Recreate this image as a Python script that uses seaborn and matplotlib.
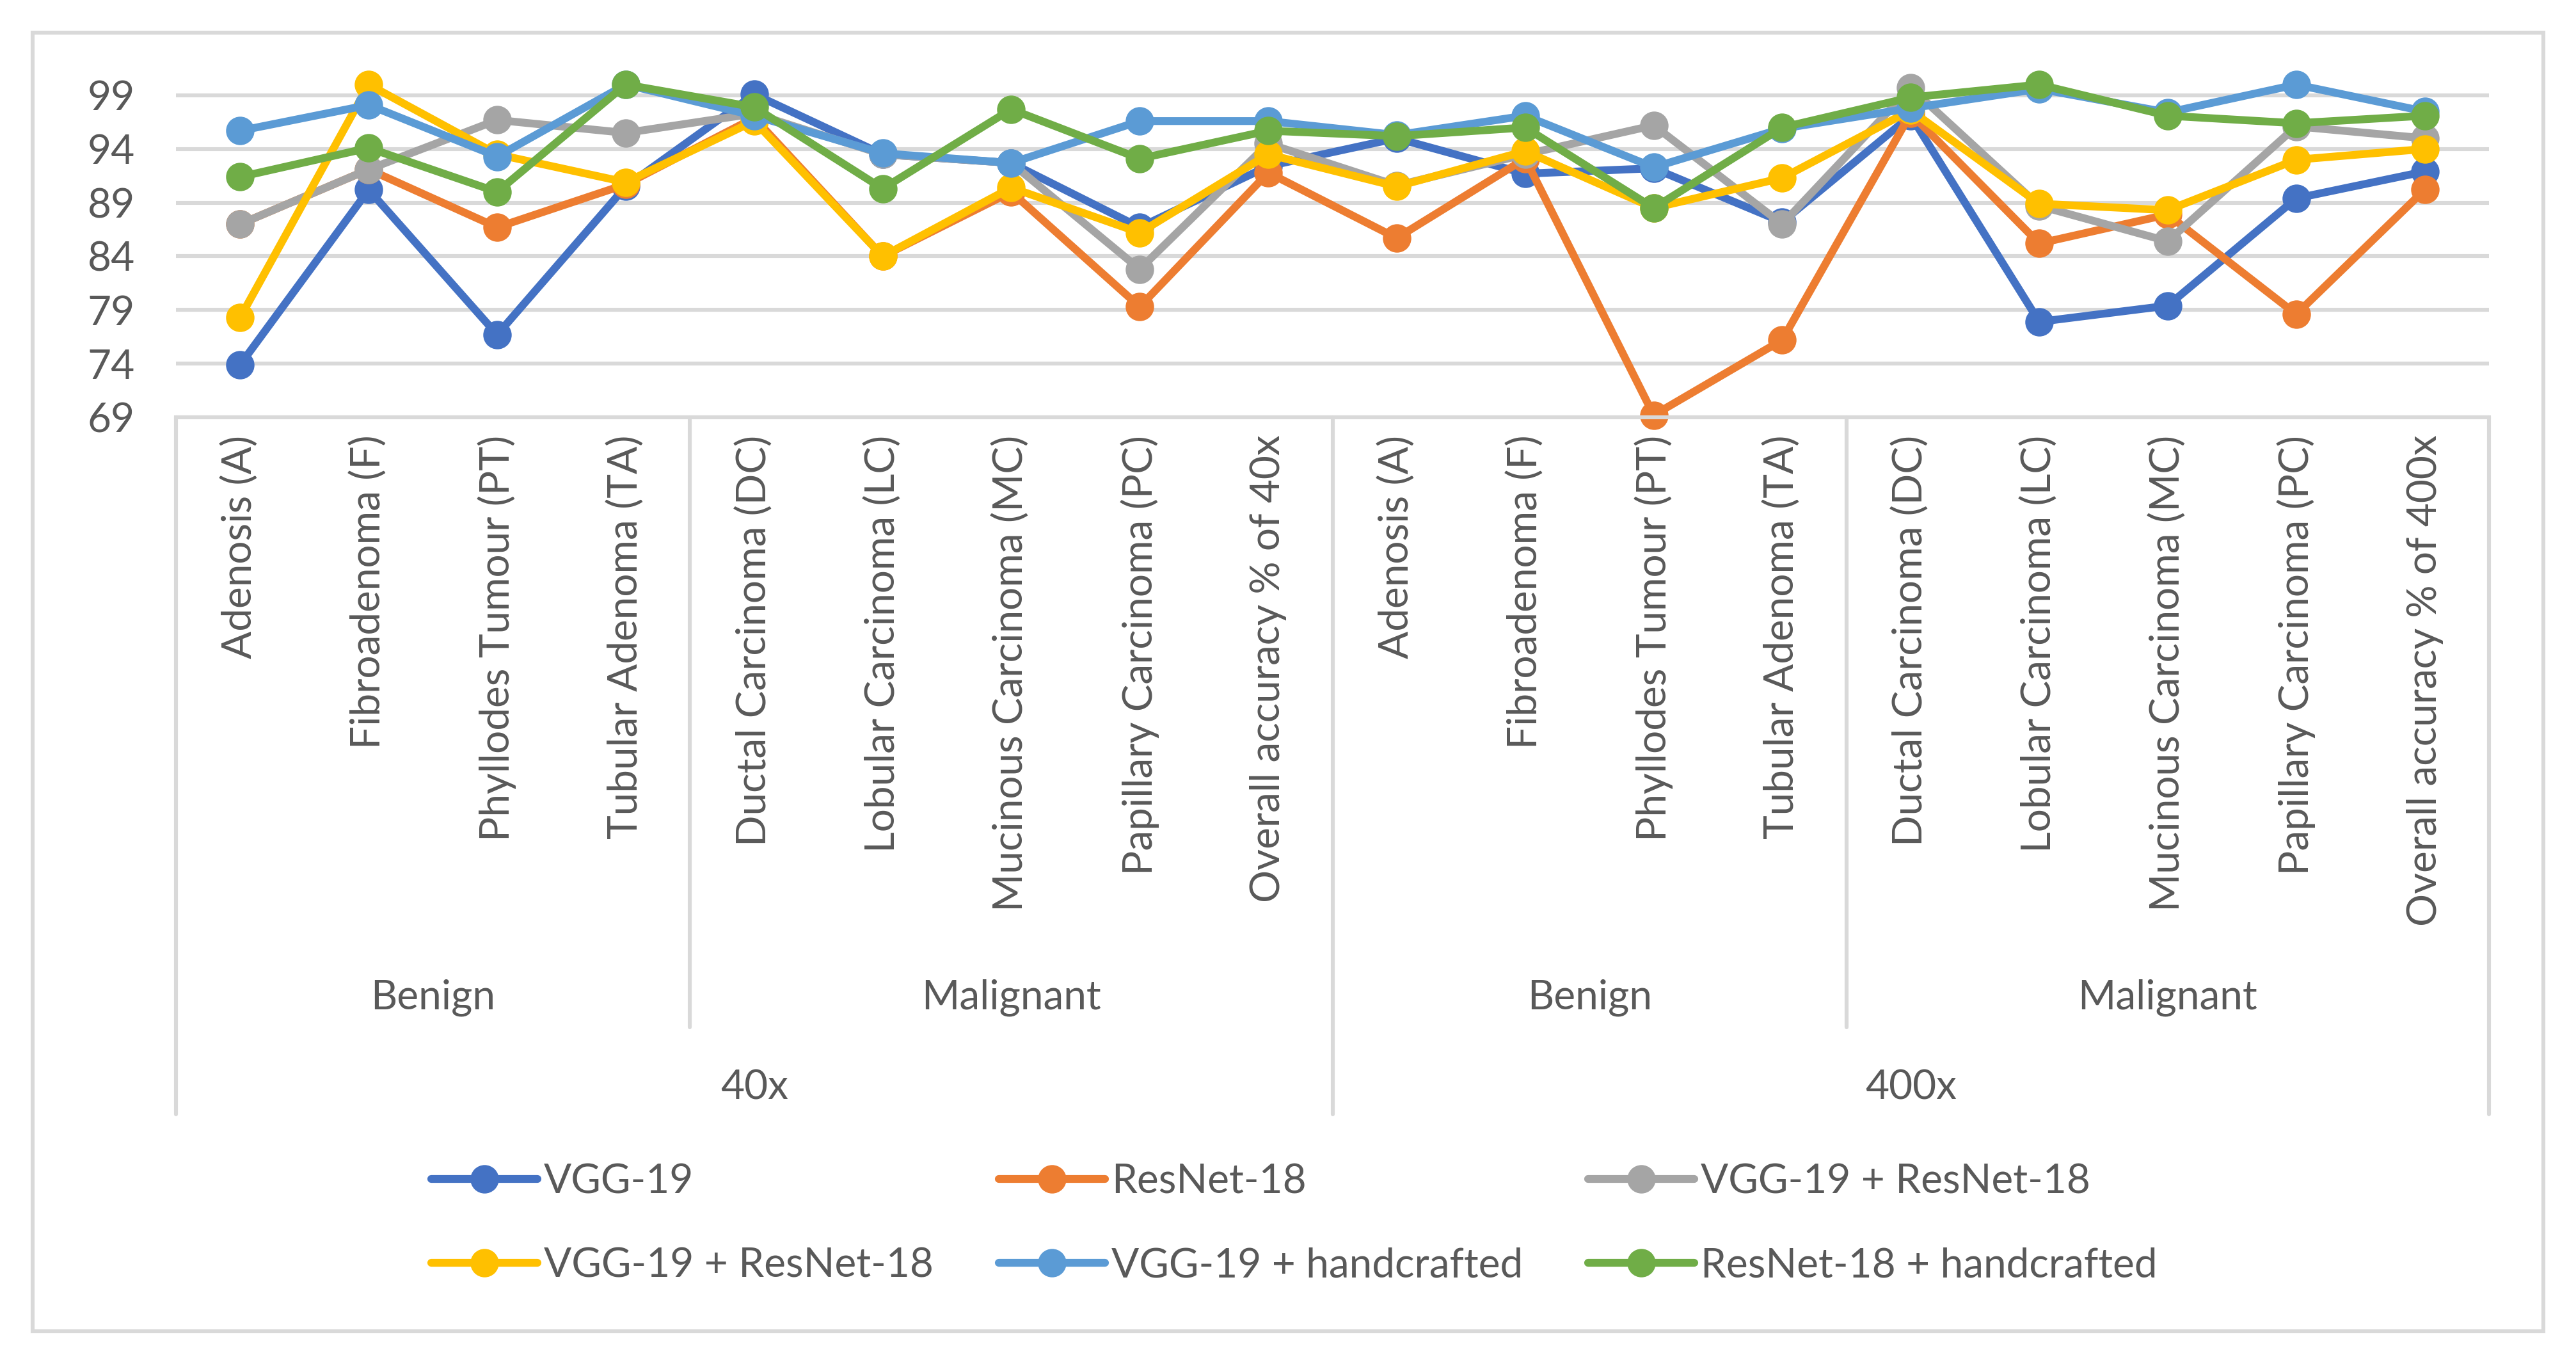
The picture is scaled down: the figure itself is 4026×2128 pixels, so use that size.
import numpy as np
import pandas as pd
import matplotlib
matplotlib.use("Agg")
import matplotlib.pyplot as plt
import matplotlib.transforms as mtransforms
from matplotlib.lines import Line2D
from matplotlib.patches import Rectangle
import seaborn as sns

# ---------------- data ----------------
categories = [
    "Adenosis (A)", "Fibroadenoma (F)", "Phyllodes Tumour (PT)", "Tubular Adenoma (TA)",
    "Ductal Carcinoma (DC)", "Lobular Carcinoma (LC)", "Mucinous Carcinoma (MC)",
    "Papillary Carcinoma (PC)", "Overall accuracy % of 40x",
    "Adenosis (A)", "Fibroadenoma (F)", "Phyllodes Tumour (PT)", "Tubular Adenoma (TA)",
    "Ductal Carcinoma (DC)", "Lobular Carcinoma (LC)", "Mucinous Carcinoma (MC)",
    "Papillary Carcinoma (PC)", "Overall accuracy % of 400x",
]
class_groups = ["Benign", "Malignant", "Benign", "Malignant"]
class_group_ranges = [(0, 3), (4, 8), (9, 12), (13, 17)]
magnifications = ["40x", "400x"]
magnification_ranges = [(0, 8), (9, 17)]

series_names = ["VGG-19", "ResNet-18", "VGG-19 + ResNet-18",
                "VGG-19 + ResNet-18", "VGG-19 + handcrafted", "ResNet-18 + handcrafted"]

vgg19 = [73.9, 90.2, 76.7, 90.5, 99.1, 93.5, 92.7, 86.7, 92.4,
         95.0, 91.7, 92.2, 87.2, 97.1, 77.9, 79.4, 89.4, 91.9]
resnet18 = [87.0, 92.1, 86.7, 90.7, 96.9, 84.0, 90.0, 79.3, 91.8,
            85.7, 93.1, 69.2, 76.2, 97.3, 85.2, 87.9, 78.6, 90.2]
vgg_resnet_a = [87.0, 92.1, 96.7, 95.5, 97.3, 93.5, 92.7, 82.8, 94.5,
                90.6, 93.5, 96.2, 87.0, 99.7, 88.7, 85.4, 96.1, 95.0]
vgg_resnet_b = [78.3, 100.0, 93.5, 90.9, 96.6, 84.0, 90.4, 86.2, 93.5,
                90.5, 93.8, 88.5, 91.3, 97.6, 88.9, 88.3, 93.0, 94.0]
vgg_hand = [95.7, 98.1, 93.3, 100.0, 97.1, 93.6, 92.7, 96.6, 96.6,
            95.3, 97.1, 92.3, 95.9, 97.8, 99.6, 97.4, 100.0, 97.5]
resnet_hand = [91.4, 94.1, 90.0, 100.0, 97.9, 90.3, 97.7, 93.1, 95.7,
               95.2, 96.0, 88.5, 96.0, 98.8, 100.0, 97.1, 96.4, 97.1]

series_values = [vgg19, resnet18, vgg_resnet_a, vgg_resnet_b, vgg_hand, resnet_hand]
colors = ["#4472C4", "#ED7D31", "#A5A5A5", "#FFC000", "#5B9BD5", "#70AD47"]

y_ticks = [69, 74, 79, 84, 89, 94, 99]

# ---------------- style ----------------
sns.set_theme(style="white")
plt.rcParams['font.family'] = ['Lato', 'DejaVu Sans']
TXT = "#595959"
GRID = "#D9D9D9"
FS = 23

W, H = 4026, 2128
DPI = 200
fig = plt.figure(figsize=(W / DPI, H / DPI), dpi=DPI)
fig.patch.set_facecolor("white")

ax_left, ax_right, ax_top, ax_bottom = 275, 3890, 107, 652
ax = fig.add_axes([ax_left / W, 1 - ax_bottom / H, (ax_right - ax_left) / W, (ax_bottom - ax_top) / H])

keys = [f"s{i}" for i in range(len(series_values))]
rows = []
for k, vals in zip(keys, series_values):
    for i, v in enumerate(vals):
        rows.append({"pos": i, "acc": v, "series": k})
df = pd.DataFrame(rows)

LW = 4.4
MS = 16
sns.lineplot(data=df, x="pos", y="acc", hue="series", hue_order=keys,
             palette=colors, marker="o", markersize=MS, markeredgewidth=0,
             linewidth=LW, estimator=None, sort=False, legend=False, ax=ax,
             clip_on=False)

ax.set_xlim(-0.5, len(categories) - 0.5)
ax.set_ylim(69, 101.5)
ax.set_yticks(y_ticks)
ax.set_yticklabels([str(t) for t in y_ticks])
ax.yaxis.grid(True, color=GRID, linewidth=2.2)
ax.xaxis.grid(False)
ax.set_axisbelow(True)
for s in ["left", "right", "top"]:
    ax.spines[s].set_visible(False)
ax.spines["bottom"].set_color(GRID)
ax.spines["bottom"].set_linewidth(2.2)
ax.set_xlabel("")
ax.set_ylabel("")

ax.set_xticks(range(len(categories)))
ax.set_xticklabels(categories, rotation=90)
ax.tick_params(axis="x", length=0, pad=10, labelsize=FS, labelcolor=TXT)
ax.tick_params(axis="y", length=0, pad=23, labelsize=FS, labelcolor=TXT)

blend = mtransforms.blended_transform_factory(ax.transData, fig.transFigure)
y_axis = 1 - ax_bottom / H
y_short = 1 - 1605 / H
y_long = 1 - 1741 / H

# separators for multi-level axis
long_seps = [-0.5, magnification_ranges[0][1] + 0.5, len(categories) - 0.5]
short_seps = [class_group_ranges[0][1] + 0.5, class_group_ranges[2][1] + 0.5]
for xs in long_seps:
    fig.add_artist(Line2D([xs, xs], [y_axis, y_long], transform=blend, color=GRID, lw=2.2))
for xs in short_seps:
    fig.add_artist(Line2D([xs, xs], [y_axis, y_short], transform=blend, color=GRID, lw=2.2))

for name, (a, b) in zip(class_groups, class_group_ranges):
    ax.text((a + b) / 2, 1 - 1559 / H, name, transform=blend, ha="center", va="center",
            fontsize=FS, color=TXT)
for name, (a, b) in zip(magnifications, magnification_ranges):
    ax.text((a + b) / 2, 1 - 1700 / H, name, transform=blend, ha="center", va="center",
            fontsize=FS, color=TXT)

# legend
handles = [Line2D([], [], color=c, lw=LW, marker="o", markersize=MS, markeredgewidth=0)
           for c in colors]
order = [0, 3, 1, 4, 2, 5]
leg = fig.legend([handles[i] for i in order], [series_names[i] for i in order],
                 ncol=3, loc="center", bbox_to_anchor=(2023 / W, 1 - 1912 / H),
                 frameon=False, fontsize=FS, handlelength=2.6, handletextpad=0.15,
                 columnspacing=1.6, labelspacing=1.15, numpoints=1)
for t in leg.get_texts():
    t.set_color(TXT)

# outer chart border
fig.add_artist(Rectangle((51 / W, 1 - 2080 / H), (3975 - 51) / W, (2080 - 51) / H,
                         transform=fig.transFigure, fill=False, ec=GRID, lw=2.2))

fig.savefig("out.png", dpi=DPI, facecolor="white")
